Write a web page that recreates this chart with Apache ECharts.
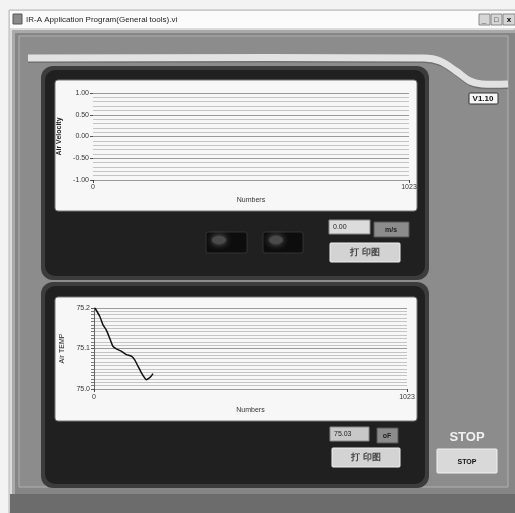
<!DOCTYPE html>
<html>
<head>
<meta charset="utf-8">
<script src="https://cdn.jsdelivr.net/npm/echarts@6/dist/echarts.min.js"></script>
<style>
html,body{margin:0;padding:0;background:#f2f2f2;}
#main{width:515px;height:513px;}
</style>
</head>
<body>
<div id="main"></div>
<script>
window.onload = function(){
	// 数据
	var xRange = [0, 1023];
	var velocityTicks = [-1.00, -0.50, 0.00, 0.50, 1.00];
	var velocityIndex = [];
	var velocityValues = [];
	var tempTicks = [75.0, 75.1, 75.2];
	var tempIndex = [3, 19, 29, 40, 51, 62, 73, 90, 106, 122, 133, 144, 155, 166, 171, 180, 188, 193];
	var tempValues = [75.200, 75.179, 75.159, 75.146, 75.126, 75.105, 75.099, 75.093, 75.085, 75.081, 75.072, 75.056, 75.040, 75.027, 75.023, 75.027, 75.033, 75.038];
	var velocityReading = '0.00';
	var tempReading = '75.03';

	var pairs = function(xs, ys){
		var res = [];
		for (var i = 0; i < xs.length; i++) {
			res.push([xs[i], ys[i]]);
		}
		return res;
	};

	var myChart = echarts.init(document.getElementById('main'));
	var font = 'Liberation Sans';

	// 背景面板
	function rect(x, y, w, h, fill, stroke, r, z){
		return {type:'rect', z: z || -10, shape:{x:x, y:y, width:w, height:h, r:r || 0},
			style:{fill:fill, stroke:stroke || null, lineWidth:1}};
	}
	function txt(x, y, s, size, color, weight, align, z){
		return {type:'text', z: z || 5, x:x, y:y,
			style:{text:s, fontSize:size, fill:color, fontWeight:weight || 'normal',
				fontFamily:font, align:align || 'left', verticalAlign:'middle'}};
	}

	var graphics = [
		rect(0, 0, 515, 513, '#f3f3f3'),
		// 窗口
		rect(9, 10, 506, 503, '#dcdcdc', '#b8b8b8'),
		rect(10, 11, 505, 17, '#fbfbfb'),
		rect(13, 14, 9, 10, '#8a8a8a', '#555'),
		txt(26, 20, 'IR-A Application Program(General tools).vi', 8, '#222', 'normal', 'left', -5),
		rect(479, 14, 11, 11, '#d6d6d6', '#888'),
		rect(491, 14, 11, 11, '#d6d6d6', '#888'),
		rect(503, 14, 12, 11, '#d6d6d6', '#888'),
		txt(484, 21, '_', 8, '#000', 'bold', 'center', -5),
		txt(496, 20, '□', 7, '#000', 'normal', 'center', -5),
		txt(509, 20, 'x', 8, '#000', 'bold', 'center', -5),
		rect(12, 30, 503, 483, '#a9a9a9'),
		rect(15, 33, 500, 462, '#868686'),
		rect(19, 36, 489, 451, '#8c8c8c', '#b0b0b0'),
		rect(10, 494, 505, 19, '#6c6c6c'),
		// 顶部装饰条
		{type:'polyline', z:-8, shape:{points:[[28,58],[424,58],[440,61],[456,71],[470,81],[482,84],[508,84]], smooth:0.35},
			style:{stroke:'#e2e2e2', lineWidth:7, fill:null}},
		{type:'polyline', z:-9, shape:{points:[[28,62],[424,62],[440,65],[456,75],[470,85],[482,88],[508,88]], smooth:0.35},
			style:{stroke:'#707070', lineWidth:2, fill:null}},
		rect(469, 93, 29, 11, '#f5f5f5', '#333', 1, -5),
		txt(483, 99, 'V1.10', 8, '#111', 'bold', 'center', -4),
		// 上面板
		rect(41, 66, 388, 214, '#3c3c3c', null, 12),
		rect(45, 70, 380, 206, '#202020', null, 10),
		rect(55, 80, 362, 131, '#f7f7f7', '#777', 3),
		rect(206, 232, 41, 21, '#0d0d0d', '#333', 2, -5),
		rect(263, 232, 40, 21, '#0d0d0d', '#333', 2, -5),
		{type:'ellipse', z:-4, shape:{cx:219, cy:240, rx:7, ry:4}, style:{fill:'#4a4a4a', shadowBlur:6, shadowColor:'#777'}},
		{type:'ellipse', z:-4, shape:{cx:276, cy:240, rx:7, ry:4}, style:{fill:'#4a4a4a', shadowBlur:6, shadowColor:'#777'}},
		rect(329, 220, 41, 14, '#dcdcdc', '#888', 0, -5),
		txt(333, 227, velocityReading, 7, '#222', 'normal', 'left', -4),
		rect(374, 222, 35, 15, '#8c8c8c', '#555', 0, -5),
		txt(391, 230, 'm/s', 7, '#222', 'bold', 'center', -4),
		rect(330, 243, 70, 19, '#d3d3d3', '#f0f0f0', 1, -5),
		txt(365, 253, '打 印图', 9, '#444', 'bold', 'center', -4),
		// 下面板
		rect(41, 282, 388, 206, '#3c3c3c', null, 12),
		rect(45, 286, 380, 198, '#202020', null, 10),
		rect(55, 297, 362, 124, '#f7f7f7', '#777', 3),
		rect(330, 427, 39, 14, '#c8c8c8', '#888', 0, -5),
		txt(334, 434, tempReading, 7, '#222', 'normal', 'left', -4),
		rect(377, 428, 21, 15, '#8c8c8c', '#555', 0, -5),
		txt(387, 436, 'oF', 7, '#222', 'bold', 'center', -4),
		rect(332, 448, 68, 19, '#d3d3d3', '#f0f0f0', 1, -5),
		txt(366, 458, '打 印图', 9, '#444', 'bold', 'center', -4),
		// STOP
		txt(467, 437, 'STOP', 13, '#f0f0f0', 'bold', 'center', -4),
		rect(437, 449, 60, 24, '#d9d9d9', '#f2f2f2', 1, -5),
		txt(467, 462, 'STOP', 7, '#111', 'bold', 'center', -4)
	];

	var labelStyle = {fontSize:7, color:'#333', fontFamily:font};
	var plainNum = function(v){ return String(v); };

	var option = {
		backgroundColor: 'transparent',
		animation: false,
		graphic: {elements: graphics},
		grid: [
			{left:93, top:93, width:316, height:87},
			{left:94, top:308, width:313, height:81}
		],
		xAxis: [
			{gridIndex:0, type:'value', min:xRange[0], max:xRange[1], interval:1023,
				name:'Numbers', nameLocation:'middle', nameGap:17,
				nameTextStyle:{fontSize:7, color:'#333', fontFamily:font},
				axisLine:{show:false, onZero:false}, axisTick:{show:true, length:3, lineStyle:{color:'#444'}},
				axisLabel:Object.assign({margin:4, formatter:plainNum}, labelStyle), splitLine:{show:false}},
			{gridIndex:1, type:'value', min:xRange[0], max:xRange[1], interval:1023,
				name:'Numbers', nameLocation:'middle', nameGap:18,
				nameTextStyle:{fontSize:7, color:'#333', fontFamily:font},
				axisLine:{show:false, onZero:false}, axisTick:{show:true, length:3, lineStyle:{color:'#444'}},
				axisLabel:Object.assign({margin:5, formatter:plainNum}, labelStyle), splitLine:{show:false}}
		],
		yAxis: [
			{gridIndex:0, type:'value', min:velocityTicks[0], max:velocityTicks[velocityTicks.length - 1], interval:0.5,
				name:'Air Velocity', nameLocation:'middle', nameGap:26, nameRotate:90,
				nameTextStyle:{fontSize:7, color:'#222', fontWeight:'bold', fontFamily:font},
				axisLine:{show:false},
				axisTick:{show:true, length:3, lineStyle:{color:'#555'}},
				axisLabel:Object.assign({margin:4, formatter:function(v){ return v.toFixed(2); }}, labelStyle),
				splitLine:{show:true, lineStyle:{color:'#9a9a9a', width:1}},
				minorSplitLine:{show:true, lineStyle:{color:'#c4c4c4', width:1}},
				minorTick:{show:false, splitNumber:5}},
			{gridIndex:1, type:'value', min:tempTicks[0], max:tempTicks[tempTicks.length - 1], interval:0.1,
				name:'Air TEMP', nameLocation:'middle', nameGap:23, nameRotate:90,
				nameTextStyle:{fontSize:7, color:'#222', fontFamily:font},
				axisLine:{show:true, lineStyle:{color:'#666'}},
				axisTick:{show:true, length:3, lineStyle:{color:'#555'}},
				axisLabel:Object.assign({margin:4, formatter:function(v){ return v.toFixed(1); }}, labelStyle),
				splitLine:{show:true, lineStyle:{color:'#9a9a9a', width:1}},
				minorSplitLine:{show:true, lineStyle:{color:'#c4c4c4', width:1}},
				minorTick:{show:true, splitNumber:12, length:3, lineStyle:{color:'#777'}}}
		],
		series: [
			{type:'line', xAxisIndex:0, yAxisIndex:0, data:pairs(velocityIndex, velocityValues),
				showSymbol:false, lineStyle:{color:'#111', width:1.5}},
			{type:'line', xAxisIndex:1, yAxisIndex:1, data:pairs(tempIndex, tempValues),
				showSymbol:false, smooth:0.2, lineStyle:{color:'#111', width:1.5}}
		]
	};
	myChart.setOption(option);
};
</script>
</body>
</html>
